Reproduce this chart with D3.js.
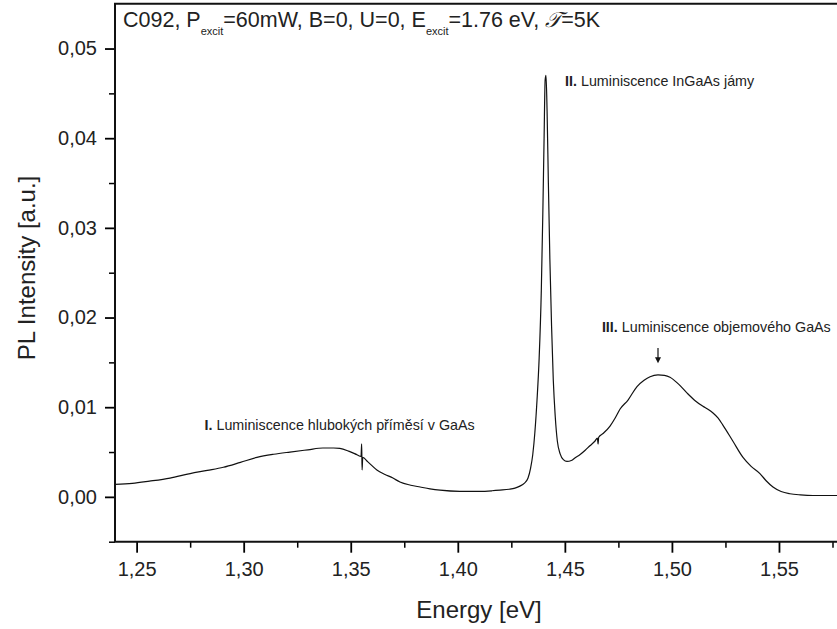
<!DOCTYPE html>
<html>
<head>
<meta charset="utf-8">
<script src="https://cdn.jsdelivr.net/npm/d3@7"></script>
<style>
  html, body { margin: 0; padding: 0; background: #fff; }
  svg { display: block; font-family: "Liberation Sans", Arial, Helvetica, sans-serif; }
</style>
</head>
<body>
<svg id="chart" width="837" height="629"></svg>
<script>
// Photoluminescence spectrum, sample C092
const energy = [
  1.2400, 1.2480, 1.2560, 1.2656, 1.2750, 1.2830, 1.2905, 1.2985, 1.3062, 1.3140,
  1.3216, 1.3300, 1.3370, 1.3420, 1.3449, 1.3490, 1.3529, 1.3548, 1.3551, 1.3553,
  1.3556, 1.3580, 1.3622, 1.3660, 1.3697, 1.3730, 1.3780, 1.3824, 1.3870, 1.3917,
  1.4010, 1.4103, 1.4160, 1.4197, 1.4240, 1.4267, 1.4290, 1.4310, 1.4328, 1.4340,
  1.4350, 1.4360, 1.4370, 1.4380, 1.4390, 1.4397, 1.4403, 1.4408, 1.4412, 1.4417,
  1.4423, 1.4430, 1.4438, 1.4446, 1.4455, 1.4465, 1.4478, 1.4493, 1.4510, 1.4530,
  1.4550, 1.4570, 1.4595, 1.4617, 1.4640, 1.4652, 1.4655, 1.4658, 1.4680, 1.4711,
  1.4735, 1.4758, 1.4795, 1.4837, 1.4870, 1.4898, 1.4935, 1.4965, 1.4991, 1.5030,
  1.5070, 1.5110, 1.5145, 1.5170, 1.5192, 1.5215, 1.5238, 1.5285, 1.5332, 1.5370,
  1.5411, 1.5440, 1.5472, 1.5510, 1.5551, 1.5600, 1.5659, 1.5720, 1.5771
];
const intensity = [
  0.00140, 0.00150, 0.00175, 0.00210, 0.00260, 0.00295, 0.00330, 0.00385, 0.00440, 0.00475,
  0.00500, 0.00525, 0.00545, 0.00545, 0.00540, 0.00510, 0.00470, 0.00450, 0.00590, 0.00300,
  0.00440, 0.00390, 0.00300, 0.00250, 0.00210, 0.00165, 0.00130, 0.00110, 0.00090, 0.00075,
  0.00062, 0.00062, 0.00068, 0.00075, 0.00085, 0.00098, 0.00120, 0.00150, 0.00210, 0.00320,
  0.00470, 0.00720, 0.01080, 0.01550, 0.02300, 0.03150, 0.04000, 0.04650, 0.04700, 0.04300,
  0.03500, 0.02650, 0.01900, 0.01300, 0.00900, 0.00620, 0.00480, 0.00415, 0.00395, 0.00405,
  0.00440, 0.00470, 0.00520, 0.00570, 0.00620, 0.00655, 0.00590, 0.00665, 0.00710, 0.00790,
  0.00880, 0.00980, 0.01080, 0.01230, 0.01300, 0.01340, 0.01360, 0.01355, 0.01335, 0.01260,
  0.01160, 0.01070, 0.01010, 0.00975, 0.00935, 0.00880, 0.00800, 0.00620, 0.00440, 0.00340,
  0.00260, 0.00180, 0.00110, 0.00060, 0.00035, 0.00022, 0.00015, 0.00015, 0.00015
];

const xMajorTicks = [1.25, 1.30, 1.35, 1.40, 1.45, 1.50, 1.55];
const xMinorTicks = [1.275, 1.325, 1.375, 1.425, 1.475, 1.525, 1.575];
const yMajorTicks = [0.00, 0.01, 0.02, 0.03, 0.04, 0.05];
const yMinorTicks = [-0.005, 0.005, 0.015, 0.025, 0.035, 0.045];

const xDomain = [1.2399, 1.5771];
const yDomain = [-0.005, 0.055];

const xTitle = "Energy [eV]";
const yTitle = "PL Intensity [a.u.]";

// Peak annotations: label anchor energy / intensity and text
const notes = [
  { num: "I.", text: " Luminiscence hlubokých příměsí v GaAs", e: 1.2817, v: 0.0075 },
  { num: "II.", text: " Luminiscence InGaAs jámy", e: 1.4501, v: 0.0458 },
  { num: "III.", text: " Luminiscence objemového GaAs", e: 1.4673, v: 0.0184 }
];
const arrowAt = { e: 1.4935, vTop: 0.0166, vBottom: 0.0150 };

const svg = d3.select("#chart");
const plotLeft = 115, plotRight = 837, plotTop = 3.7, plotBottom = 541.7;

const x = d3.scaleLinear().domain(xDomain).range([plotLeft, plotRight]);
const y = d3.scaleLinear().domain(yDomain).range([plotBottom, plotTop]);

const comma = d => d3.format(".2f")(d).replace(".", ",");

// spectrum
const pts = energy.map((e, i) => [e, intensity[i]]);
svg.append("path")
  .datum(pts)
  .attr("fill", "none")
  .attr("stroke", "#111")
  .attr("stroke-width", 1.2)
  .attr("stroke-linejoin", "round")
  .attr("d", d3.line().curve(d3.curveMonotoneX).x(d => x(d[0])).y(d => y(d[1])));

// x axis
const xAxisMin = svg.append("g").attr("transform", `translate(0,${plotBottom})`)
  .call(d3.axisBottom(x).tickValues(xMinorTicks).tickSize(6).tickFormat(""));
xAxisMin.selectAll(".tick line").attr("stroke-width", 1.5);
const xAxisMaj = svg.append("g").attr("transform", `translate(0,${plotBottom})`)
  .call(d3.axisBottom(x).tickValues(xMajorTicks).tickSize(11).tickPadding(9).tickFormat(comma));
xAxisMaj.selectAll(".tick line").attr("stroke-width", 1.8);
xAxisMaj.selectAll("text").attr("font-size", 20).attr("fill", "#222")
  .attr("font-family", "Liberation Sans, Arial, sans-serif");

// y axis
const yAxisMin = svg.append("g").attr("transform", `translate(${plotLeft},0)`)
  .call(d3.axisLeft(y).tickValues(yMinorTicks).tickSize(6).tickFormat(""));
yAxisMin.selectAll(".tick line").attr("stroke-width", 1.5);
const yAxisMaj = svg.append("g").attr("transform", `translate(${plotLeft},0)`)
  .call(d3.axisLeft(y).tickValues(yMajorTicks).tickSize(10).tickPadding(8).tickFormat(comma));
yAxisMaj.selectAll(".tick line").attr("stroke-width", 1.8);
yAxisMaj.selectAll("text").attr("font-size", 20).attr("fill", "#222")
  .attr("font-family", "Liberation Sans, Arial, sans-serif");
svg.selectAll(".domain").remove();

// frame lines
svg.append("line").attr("x1", plotLeft).attr("x2", plotLeft).attr("y1", plotTop).attr("y2", plotBottom)
  .attr("stroke", "#111").attr("stroke-width", 2);
svg.append("line").attr("x1", plotLeft - 1).attr("x2", plotRight).attr("y1", plotBottom).attr("y2", plotBottom)
  .attr("stroke", "#111").attr("stroke-width", 2);
svg.append("line").attr("x1", plotLeft - 1).attr("x2", plotRight).attr("y1", plotTop).attr("y2", plotTop)
  .attr("stroke", "#111").attr("stroke-width", 2);

// axis titles
svg.append("text")
  .attr("x", 479).attr("y", 618)
  .attr("text-anchor", "middle")
  .attr("font-size", 24).attr("fill", "#222")
  .text(xTitle);
svg.append("text")
  .attr("transform", "translate(35,268) rotate(-90)")
  .attr("text-anchor", "middle")
  .attr("font-size", 24).attr("fill", "#222")
  .text(yTitle);

// heading with subscripts
const head = svg.append("text").attr("x", 123).attr("y", 27)
  .attr("font-size", 21.5).attr("fill", "#222");
head.append("tspan").text("C092, P");
head.append("tspan").attr("font-size", 11).attr("dy", 8).text("excit");
head.append("tspan").attr("dy", -8).text("=60mW, B=0, U=0, E");
head.append("tspan").attr("font-size", 11).attr("dy", 8).text("excit");
head.append("tspan").attr("dy", -8).text("=1.76 eV, ");
head.append("tspan").attr("font-style", "italic").attr("font-family", "DejaVu Serif, serif").text("𝒯");
head.append("tspan").text("=5K");

// peak annotations
notes.forEach(n => {
  const t = svg.append("text").attr("x", x(n.e)).attr("y", y(n.v))
    .attr("font-size", 14.3).attr("fill", "#222");
  t.append("tspan").attr("font-weight", "bold").text(n.num);
  t.append("tspan").text(n.text);
});

// arrow pointing at peak III
const ax = x(arrowAt.e);
svg.append("line").attr("x1", ax).attr("x2", ax)
  .attr("y1", y(arrowAt.vTop)).attr("y2", y(arrowAt.vBottom) - 4)
  .attr("stroke", "#111").attr("stroke-width", 1.2);
svg.append("path")
  .attr("d", `M${ax - 3},${y(arrowAt.vBottom) - 5} L${ax + 3},${y(arrowAt.vBottom) - 5} L${ax},${y(arrowAt.vBottom) + 1} Z`)
  .attr("fill", "#111");
</script>
</body>
</html>
